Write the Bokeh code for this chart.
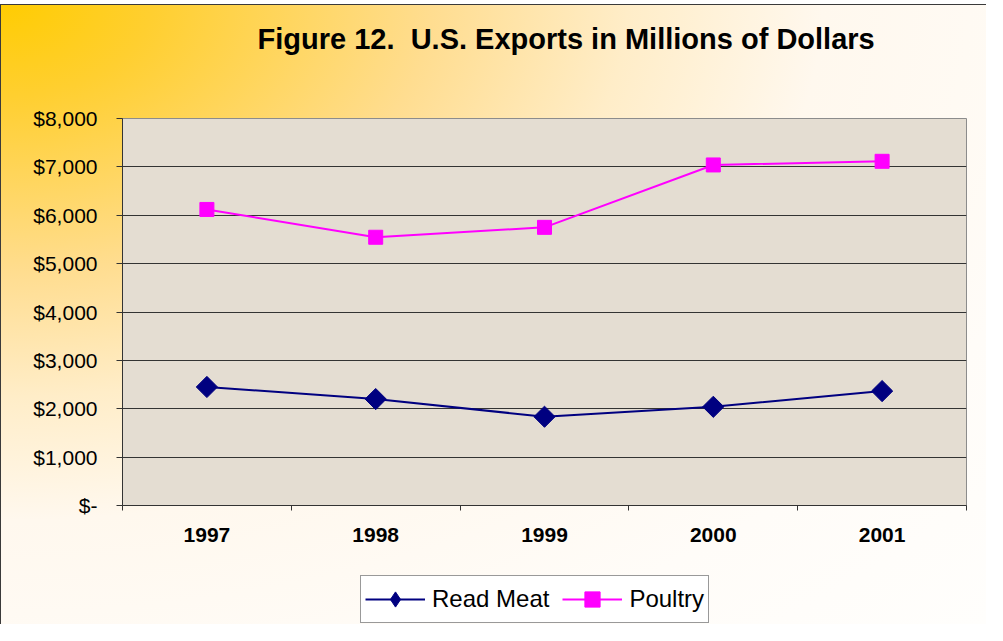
import math
from bokeh.plotting import figure
from bokeh.layouts import column
from bokeh.models import Range1d, FixedTicker, Legend, LegendItem, Label
from bokeh.embed import file_html
from bokeh.resources import INLINE

# ---- data ----
years = ["1997", "1998", "1999", "2000", "2001"]
red_meat = [2450, 2200, 1835, 2040, 2365]
poultry = [6120, 5545, 5750, 7040, 7115]
series_names = ["Read Meat", "Poultry"]
y_ticks = [0, 1000, 2000, 3000, 4000, 5000, 6000, 7000, 8000]
y_tick_labels = ["$-", "$1,000", "$2,000", "$3,000", "$4,000",
                 "$5,000", "$6,000", "$7,000", "$8,000"]
title_text = "Figure 12.\u00a0 U.S. Exports in Millions of Dollars"

FONT = "Liberation Sans"
MEAT_COLOR = "#000080"
POULTRY_COLOR = "#FF00FF"
W = 986


def strip(height):
    f = figure(width=W, height=height, output_backend="svg", toolbar_location=None,
               x_range=Range1d(0, 1), y_range=Range1d(0, height),
               x_axis_type=None, y_axis_type=None, min_border=0)
    f.grid.visible = False
    f.outline_line_color = None
    f.background_fill_color = None
    f.border_fill_color = None
    return f


# ---- title strip ----
t = strip(70)
t.add_layout(Label(x=0.16, y=32, text=title_text, text_align="left",
                   text_baseline="alphabetic", text_font=FONT,
                   text_font_size="29px", text_font_style="bold",
                   text_color="black"))

# ---- main chart ----
# category centres on a numeric axis (category i occupies [i, i+1])
x = [i + 0.5 for i in range(len(years))]
bounds = list(range(len(years) + 1))

p = figure(width=W, height=492, output_backend="svg", toolbar_location=None,
           x_range=Range1d(0, len(years)), y_range=Range1d(y_ticks[0], y_ticks[-1]),
           min_border_left=122, min_border_top=48, min_border_right=20,
           min_border_bottom=57)
p.border_fill_color = None
p.background_fill_color = "#E4DDD2"
p.outline_line_color = "#8c8c8c"
p.outline_line_width = 1

p.xgrid.visible = False
p.ygrid.ticker = FixedTicker(ticks=y_ticks[1:-1])
p.ygrid.grid_line_color = "#333333"
p.ygrid.grid_line_width = 1

p.yaxis.ticker = FixedTicker(ticks=y_ticks)
p.yaxis.major_label_overrides = dict(zip(y_ticks, y_tick_labels))
p.yaxis.major_tick_out = 6
p.yaxis.major_tick_in = 0
p.yaxis.minor_tick_out = 0
p.yaxis.major_label_standoff = 19
p.yaxis.major_label_text_font = FONT
p.yaxis.major_label_text_font_size = "21px"
p.yaxis.major_label_text_color = "black"
p.yaxis.axis_line_color = "#333333"
p.yaxis.major_tick_line_color = "#333333"

p.xaxis.ticker = FixedTicker(ticks=x, minor_ticks=bounds)
p.xaxis.major_label_overrides = dict(zip(x, years))
p.xaxis.major_tick_out = 0
p.xaxis.major_tick_in = 0
p.xaxis.minor_tick_out = 5
p.xaxis.minor_tick_in = 0
p.xaxis.minor_tick_line_color = "#333333"
p.xaxis.major_label_standoff = 17
p.xaxis.major_label_text_font = FONT
p.xaxis.major_label_text_font_size = "21px"
p.xaxis.major_label_text_font_style = "bold"
p.xaxis.major_label_text_color = "black"
p.xaxis.axis_line_color = "#333333"

p.line(x, red_meat, line_color=MEAT_COLOR, line_width=2)
p.scatter(x, red_meat, marker="square", angle=math.pi / 4, size=15,
          fill_color=MEAT_COLOR, line_color=MEAT_COLOR)
p.line(x, poultry, line_color=POULTRY_COLOR, line_width=2)
p.scatter(x, poultry, marker="square", size=14,
          fill_color=POULTRY_COLOR, line_color=POULTRY_COLOR)

# ---- legend strip (same series, plotted outside this strip's visible range) ----
q = figure(width=W, height=62, output_backend="svg", toolbar_location=None,
           x_range=Range1d(0, len(years)),
           y_range=Range1d(y_ticks[-1] * 2, y_ticks[-1] * 3),
           x_axis_type=None, y_axis_type=None, min_border=0)
q.grid.visible = False
q.outline_line_color = None
q.background_fill_color = None
q.border_fill_color = None
ql1 = q.line(x, red_meat, line_color=MEAT_COLOR, line_width=2)
qs1 = q.scatter(x, red_meat, marker="diamond", fill_color=MEAT_COLOR, line_color=MEAT_COLOR)
ql2 = q.line(x, poultry, line_color=POULTRY_COLOR, line_width=2)
qs2 = q.scatter(x, poultry, marker="square", fill_color=POULTRY_COLOR, line_color=POULTRY_COLOR)

lg = Legend(items=[LegendItem(label=series_names[0], renderers=[ql1, qs1]),
                   LegendItem(label=series_names[1], renderers=[ql2, qs2])],
            location=(238, 1), orientation="horizontal", margin=0,
            padding=4, spacing=13, glyph_width=60, glyph_height=38,
            label_standoff=7, label_text_font=FONT, label_text_font_size="24px",
            label_text_color="black", border_line_color="#333333",
            border_line_width=1, background_fill_color="white",
            background_fill_alpha=1)
q.add_layout(lg)

layout = column(t, p, q, spacing=0)
layout.styles = {"background": (
    "linear-gradient(#3a3a3a,#3a3a3a) 0 4px / 100% 1px no-repeat, "
    "linear-gradient(#3a3a3a,#3a3a3a) 0 4px / 1px 100% no-repeat, "
    "linear-gradient(#ffffff,#ffffff) 0 0 / 100% 4px no-repeat, "
    "radial-gradient(farthest-corner at 0% 0%, #FFCC00 0%, #FFCF30 11%, "
    "#FFDD90 31%, #FFEDC8 45%, #FFF8EE 59%, #FFFCF8 80%, #FFFEFC 100%)")}

open("out.html", "w").write(file_html(layout, INLINE))
